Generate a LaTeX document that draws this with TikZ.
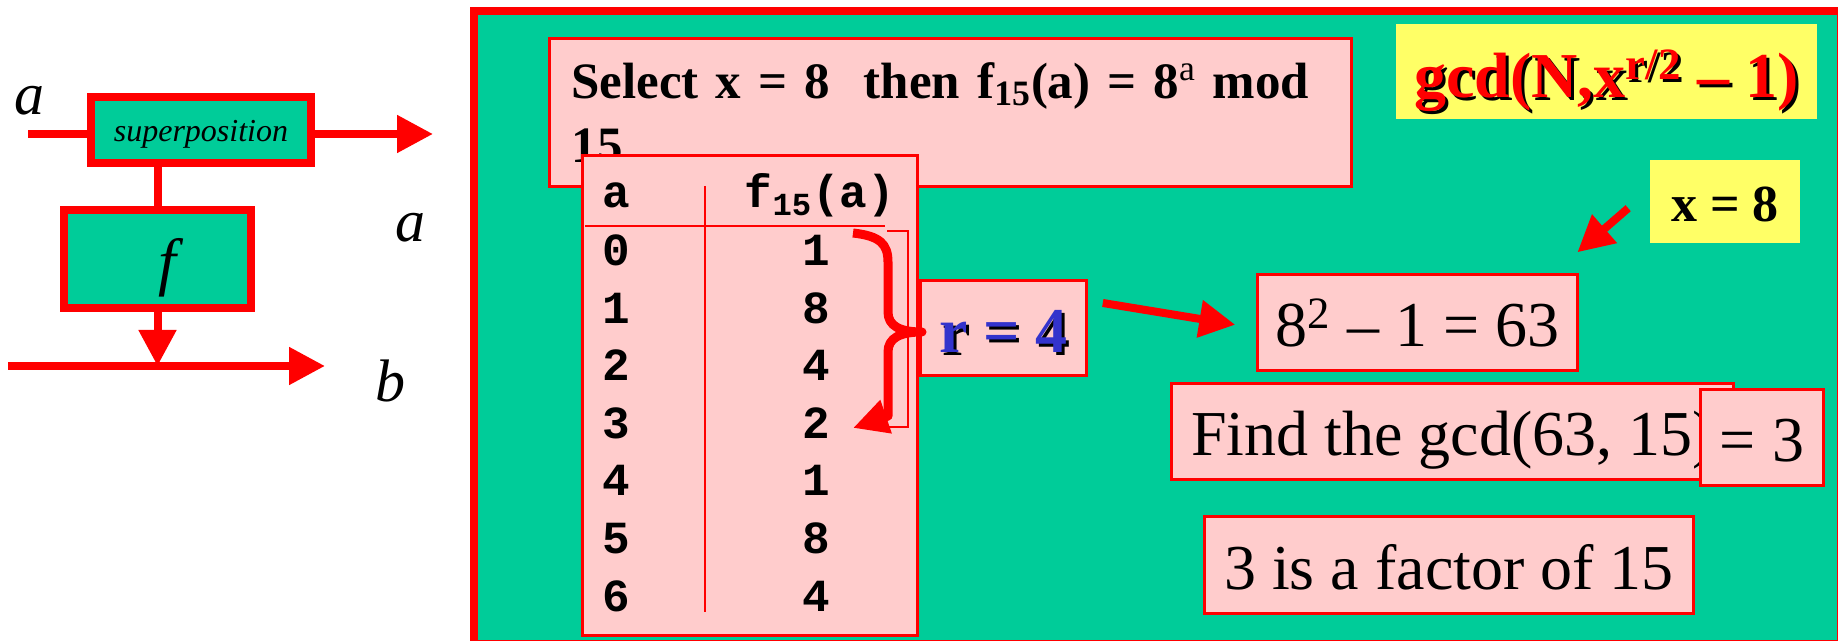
\documentclass[tikz,border=0pt]{standalone}
\usepackage{fontspec}
\setmainfont{Liberation Serif}
\setmonofont{Liberation Mono}
\usepackage{xcolor}
\usepackage{tikz}
\usetikzlibrary{positioning, arrows.meta, calc}
\definecolor{panelgreen}{HTML}{00CC99}
\definecolor{boxpink}{HTML}{FFCCCC}
\definecolor{noteyellow}{HTML}{FFFF66}
\definecolor{linered}{HTML}{FF0000}
\definecolor{periodblue}{HTML}{3333CC}
\newcommand{\castshadow}[2]{\makebox[0pt][l]{\hspace{1.5pt}\raisebox{-1.5pt}{\color{black}#2}}{\color{#1}#2}}
\tikzset{
  pinkbox/.style={draw=linered, line width=1.5pt, fill=boxpink, inner sep=0pt},
  yellowbox/.style={fill=noteyellow, inner sep=0pt},
  redblock/.style={draw=linered, line width=4pt, fill=panelgreen, inner sep=0pt},
  flowline/.style={draw=linered, line width=4pt},
  bigarrow/.style={linered, line width=4pt, -{Triangle[length=18pt,width=18pt]}},
  thinrule/.style={linered, line width=1.2pt},
  cell/.style={font=\fontsize{23}{23}\selectfont\ttfamily\bfseries, text height=14pt, text depth=0pt, inner sep=0pt},
  bigtext/.style={font=\fontsize{32}{38}\selectfont, text height=24.5pt, text depth=0pt},
  wire/.style={font=\fontsize{30}{30}\selectfont\itshape, anchor=base, inner sep=0pt}
}

\begin{document}
\begin{tikzpicture}[x=0.5pt, y=-0.5pt]
    \useasboundingbox (0,0) rectangle (1838,641);
    \fill[white] (0,0) rectangle (1838,641);

    % oracle circuit
    \node[redblock, minimum width=110pt, minimum height=33pt,
          font=\fontsize{16}{16}\selectfont\itshape, text height=12pt, text depth=0pt] (sup) at (201,130) {superposition};
    \node[redblock, minimum width=93.5pt, minimum height=49pt,
          font=\fontsize{32}{32}\selectfont\itshape, text height=25pt, text depth=0pt] (fbox) at (157.5,259) {\hspace{10pt}f};
    \coordinate (ain) at (28,134);
    \coordinate (aout) at (433,134);
    \coordinate (bin) at (8,366);
    \coordinate (bout) at (325,366);
    \draw[flowline] (ain) -- (ain -| sup.west);
    \draw[bigarrow] (ain -| sup.east) -- (aout);
    \draw[flowline] (sup.south -| fbox.north) -- (fbox.north);
    \draw[bigarrow] (bin) -- (bout);
    \draw[bigarrow] (fbox.south) -- (fbox.south |- bin);
    \node[wire] (ina) at (30,115) {a};
    \node[wire] (outa) at (410,242) {a};
    \node[wire] (outb) at (390,402) {b};

    % period finding panel
    \draw[linered, line width=4pt, fill=panelgreen] (474,11) rectangle (1841,644);
    \node[pinkbox, text width=379pt, inner xsep=11pt, minimum height=74pt, align=left,
          font=\fontsize{25.5}{32}\selectfont\bfseries] (sel) at (950.5,112.5)
          {\mbox{Select x = 8\ \ then f\textsubscript{15}(a) = 8\textsuperscript{\mdseries a} mod}\\15};
    \node[pinkbox, minimum width=167.5pt, minimum height=240pt] (tab) at (750,395.5) {};
    \node[cell, anchor=base] (hda) at (616,208) {a};
    \node[cell, anchor=base] (hdf) at (820,208) {f\textsubscript{15}(a)};
    \draw[thinrule] (585,226) -- (885,226);
    \draw[thinrule] (705,186) -- (705,612);
    \foreach \v [count=\i from 0] in {1,8,4,2,1,8,4} {
      \node[cell] (ka\i) at (616,252+57.5*\i) {\i};
      \node[cell] (kf\i) at (816,252+57.5*\i) {\v};
    }
    \node[pinkbox, minimum width=83pt, minimum height=47.5pt,
          font=\fontsize{32}{32}\selectfont\bfseries, text height=25pt, text depth=0pt] (r4) at (1003.5,328)
          {\castshadow{periodblue}{r = 4}};
    \draw[linered, line width=4.5pt, line join=round, -{Triangle[length=17.5pt,width=16.5pt]}]
      (853,233) .. controls (880,236) and (888,244) .. (888,262) -- (888,312)
      .. controls (888,326) and (900,332) .. (922,332)
      .. controls (900,332) and (888,338) .. (888,352) -- (888,416) -- (853,428);
    \draw[linered, line width=0.8pt] (887,231) -| (908,427) -- (887,427);

    \node[pinkbox, bigtext, minimum width=160pt, minimum height=48pt] (sq) at (1417.5,322.5) {8\textsuperscript{2} -- 1 = 63};
    \node[pinkbox, bigtext, minimum width=281pt, minimum height=48pt] (find) at (1452.5,431.5) {Find the gcd(63, 15)};
    \node[pinkbox, bigtext, minimum width=61.5pt, minimum height=48pt] (eq3) at (1762,437.5) {= 3};
    \node[pinkbox, bigtext, minimum width=244.5pt, minimum height=48.5pt] (fac) at (1449,565) {3 is a factor of 15};
    \node[yellowbox, minimum width=210.5pt, minimum height=47.5pt,
          font=\fontsize{32}{32}\selectfont\bfseries, text height=26.5pt, text depth=0pt] (gcd) at (1606.5,71.5)
          {\castshadow{linered}{gcd(N,x\textsuperscript{r/2} -- 1)}};
    \node[yellowbox, minimum width=75pt, minimum height=41.5pt,
          font=\fontsize{26}{26}\selectfont\bfseries, text height=20.5pt, text depth=0pt] (x8) at (1725,201.5) {x = 8};

    \draw[bigarrow, shorten <=7.5pt, shorten >=10.5pt] (r4.18.7) -- (sq.182);
    \draw[bigarrow, shorten <=14.2pt, shorten >=15.8pt] (x8.171.3) -- (sq.20.7);
  \end{tikzpicture}
\end{document}
